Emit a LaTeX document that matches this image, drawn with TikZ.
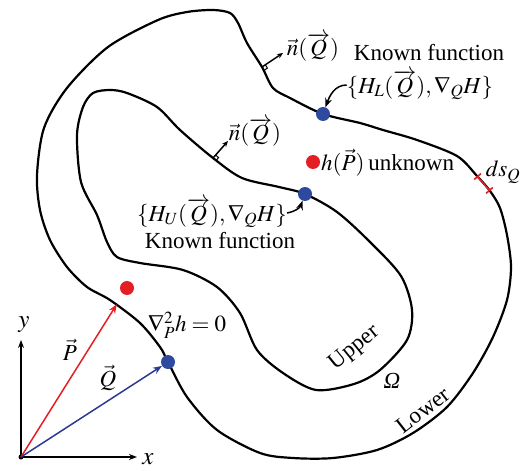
\documentclass[tikz,border=0pt]{standalone}
\usepackage{mathptmx}
\usepackage[no-math]{fontspec}
\setmainfont{Liberation Serif}
\usetikzlibrary{arrows.meta}
\definecolor{bemred}{HTML}{E31E24}
\definecolor{bemblue}{HTML}{2E4A9E}
\definecolor{bemarrow}{HTML}{2B3990}

\begin{document}
\begin{tikzpicture}[x=1pt,y=-1pt,
   bound/.style={line width=2.2pt,line join=round},
   bdot/.style={circle,fill=bemblue,inner sep=0pt,minimum size=14pt},
   rdot/.style={circle,fill=bemred,inner sep=0pt,minimum size=14pt},
   lab/.style={font=\fontsize{23}{24}\selectfont,inner sep=0pt},
   ar/.style={-{Stealth[length=9pt,width=7pt]},line width=1.5pt},
   tk/.style={line width=1pt}]
  \useasboundingbox (0,0) rectangle (526,470);
  % outer (lower) and inner (upper) boundaries
  \draw[bound] plot[smooth cycle,tension=0.5] coordinates {
    (187,12) (213,10) (230,13) (238,23) (247,43) (262,67) (273,88) (290,98)
    (323,114) (360,123) (383,130) (417,140) (457,156) (477,176) (490,191)
    (500,208) (507,235) (511,267) (507,300) (493,337) (473,373) (447,407)
    (413,433) (377,450) (333,458) (293,458) (260,453) (217,430) (187,397)
    (168,362) (160,347) (140,323) (110,300) (87,287) (67,267) (50,240)
    (40,210) (37,175) (44,128) (67,88) (108,47) (158,20)};
  \draw[bound] plot[smooth cycle,tension=0.5] coordinates {
    (93,93) (110,90) (127,93) (157,107) (180,130) (213,158) (242,178)
    (279,187) (305,194) (337,212) (370,242) (401,276) (412,310) (407,340)
    (380,370) (354,384) (316,390) (283,373) (257,350) (240,313) (217,287)
    (183,270) (140,263) (117,257) (107,242) (97,215) (81,182) (77,135)
    (83,107)};
  % points on the boundaries
  \node[bdot] (LB) at (323,114) {};
  \node[bdot] (UB) at (305,194) {};
  \node[bdot] (QB) at (168,362) {};
  \node[rdot] (hdot) at (313,162) {};
  \node[rdot] (PD) at (127,288) {};
  \node[circle,fill=black,inner sep=0pt,minimum size=5pt] (O) at (21,457) {};
  % axes and position vectors
  \coordinate (xend) at (137,457);
  \coordinate (yend) at (21,340);
  \draw[-{Stealth[length=8pt,width=6pt]},line width=1.3pt] (O.center) -- (xend);
  \draw[-{Stealth[length=8pt,width=6pt]},line width=1.3pt] (O.center) -- (yend);
  \node[lab,font=\fontsize{25}{26}\selectfont] (xl) at (148,459) {$x$};
  \node[lab,font=\fontsize{25}{26}\selectfont] (yl) at (24,325) {$y$};
  \draw[ar,bemred,shorten >=12pt] (O.center) -- (PD);
  \draw[ar,bemarrow] (O.center) -- (QB);
  \node[lab] (Pl) at (70,350) {$\vec P$};
  \node[lab] (Ql) at (108,378) {$\vec Q$};
  \node[lab] (lap) at (187,325) {$\nabla_P^2 h=0$};
  % normals
  \coordinate (nbO) at (262,67);
  \coordinate (ntO) at (283,53);
  \draw[ar,-{Stealth[length=6pt,width=5pt]}] (nbO) -- (ntO);
  \draw[tk] (264.1,70.4) -- (267.4,68.1) -- (265.3,64.7);
  \node[lab] (nO) at (313,47) {$\vec n(\overrightarrow{Q})$};
  \coordinate (nbU) at (213,158);
  \coordinate (ntU) at (228,141);
  \draw[ar,-{Stealth[length=6pt,width=5pt]}] (nbU) -- (ntU);
  \draw[tk] (216,160.6) -- (218.6,157.6) -- (215.6,155);
  \node[lab] (nU) at (255,132) {$\vec n(\overrightarrow{Q})$};
  % known functions
  \node[lab] (KL) at (429,53) {Known function};
  \node[lab] (HL) at (420,85) {$\{H_L(\overrightarrow{Q}),\nabla_Q H\}$};
  \draw[ar] (HL.west) to[out=180,in=70] (LB);
  \node[lab] (HU) at (212,213) {$\{H_U(\overrightarrow{Q}),\nabla_Q H\}$};
  \node[lab] (KU) at (220,241) {Known function};
  \draw[ar] (HU.east) to[out=10,in=-110] (UB);
  \node[lab,anchor=west] (htxt) at (321,163) {$h(\vec P)$\,unknown};
  % boundary element
  \coordinate (dsA) at (477,176);
  \coordinate (dsB) at (490,191);
  \draw[bemred,line width=1.6pt,{Bar[width=9pt]}-{Bar[width=9pt]}] (dsA) -- (dsB);
  \node[lab] (ds) at (503,172) {$ds_Q$};
  % region labels
  \node[lab,rotate=39] (upper) at (355,348) {Upper};
  \node[lab] (om) at (392,381) {\textit{Ω}};
  \node[lab,rotate=38] (lower) at (423,410) {Lower};
\end{tikzpicture}
\end{document}
